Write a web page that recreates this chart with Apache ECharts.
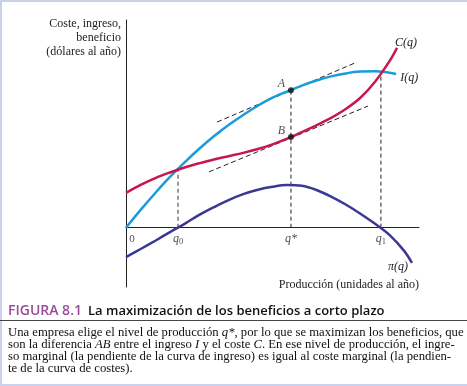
<!DOCTYPE html>
<html><head><meta charset="utf-8">
<script src="https://cdn.jsdelivr.net/npm/echarts@6/dist/echarts.min.js"></script>
<style>html,body{margin:0;padding:0;background:#fff}#c{width:467px;height:386px}</style>
</head><body><div id="c"></div>
<script>
// Key output levels
const q0 = 1.775, qStar = 5.63, q1 = 8.70;
const tickValues = [0, q0, qStar, q1];
const tickLabels = ['0', 'q0', 'q*', 'q1'];

// Cost curve C(q)
const costQ = [0, 0.5, 1.0, 1.5, 2.0, 2.5, 3.0, 3.5, 4.0, 4.5, 5.0, 5.5, 6.0, 6.5, 7.0, 7.5, 8.0, 8.5, 9.0, 9.25];
const costV = [1.17, 1.44, 1.67, 1.86, 2.03, 2.17, 2.30, 2.41, 2.52, 2.65, 2.81, 3.00, 3.22, 3.45, 3.70, 4.00, 4.38, 4.92, 5.62, 6.06];

// Revenue curve I(q)
const revQ = [0, 0.5, 1.0, 1.5, 2.0, 2.5, 3.0, 3.5, 4.0, 4.5, 5.0, 5.5, 6.0, 6.5, 7.0, 7.5, 8.0, 8.5, 9.0, 9.22];
const revV = [0, 0.60, 1.17, 1.71, 2.20, 2.66, 3.08, 3.46, 3.80, 4.11, 4.38, 4.59, 4.79, 4.96, 5.10, 5.20, 5.26, 5.27, 5.22, 5.18];

// Profit curve pi(q)
const profQ = [0, 0.5, 1.0, 1.5, 2.0, 2.5, 3.0, 3.5, 4.0, 4.5, 5.0, 5.5, 6.0, 6.5, 7.0, 7.5, 8.0, 8.5, 9.0, 9.5, 9.76];
const profV = [-0.99, -0.72, -0.44, -0.15, 0.13, 0.43, 0.69, 0.93, 1.13, 1.28, 1.38, 1.435, 1.41, 1.27, 1.05, 0.78, 0.47, 0.13, -0.25, -0.79, -1.19];

// Points A and B
const pointA = [qStar, 4.63], pointB = [qStar, 3.06];
// Tangent segments
const tangentA = [[3.11, 3.56], [7.88, 5.58]];
const tangentB = [[2.83, 1.88], [8.26, 4.10]];
// Dropped dashed lines
const drops = [[[q0, 0], [q0, 1.98]], [[qStar, 0], [qStar, 4.63]], [[q1, 0], [q1, 5.25]]];

const zip = (a, b) => a.map((x, i) => [x, b[i]]);
const serif = '"Liberation Serif","DejaVu Serif",serif';
const sans = '"Open Sans","Noto Sans",sans-serif';
const RED = '#c8174d', BLUE = '#1a9cdc', NAVY = '#3b3895';

const series = [];
drops.forEach((d, i) => series.push({type:'line', data:d, symbol:'none', silent:true,
  lineStyle:{color:i === 0 ? '#777' : '#222', width:i === 0 ? 1.5 : 1, type:[4,3]}, z:1}));
[tangentA, tangentB].forEach(d => series.push({type:'line', data:d, symbol:'none', silent:true,
  lineStyle:{color:'#222', width:1, type:[5,3]}, z:1}));
series.push({type:'line', name:'C', data:zip(costQ, costV), smooth:0.35, symbol:'none',
  lineStyle:{color:RED, width:2.5}, z:3,
  endLabel:{show:true, formatter:'C(q)', fontFamily:serif, fontStyle:'italic', fontSize:12, color:'#222', offset:[-10,-5]}});
series.push({type:'line', name:'I', data:zip(revQ, revV), smooth:0.35, symbol:'none',
  lineStyle:{color:BLUE, width:2.5}, z:2,
  endLabel:{show:true, formatter:'I(q)', fontFamily:serif, fontStyle:'italic', fontSize:12, color:'#222', offset:[-4,4]}});
series.push({type:'line', name:'pi', data:zip(profQ, profV), smooth:0.35, symbol:'none',
  lineStyle:{color:NAVY, width:2.5}, z:2,
  endLabel:{show:true, formatter:'π(q)', fontFamily:serif, fontStyle:'italic', fontSize:12, color:'#222', offset:[-32,4]}});
series.push({type:'scatter', data:[pointA, pointB], symbolSize:6, itemStyle:{color:'#111'}, z:5,
  label:{show:true, formatter:p => p.dataIndex === 0 ? 'A' : 'B', position:'left', offset:[2,-6],
    fontFamily:serif, fontStyle:'italic', fontSize:12, color:'#222'}});
// Axis tick labels at the zero line
series.push({type:'scatter', symbolSize:0, silent:true, z:6,
  data:tickValues.map((v, i) => ({value:[v, 0], label:i === 0 ? {offset:[6, 0]} : {}})),
  label:{show:true, position:'bottom', distance:3,
    formatter:p => { const t = tickLabels[p.dataIndex];
      if (t === '0') return '{z|0}';
      if (t === 'q*') return '{q|q*}';
      return '{q|q}{s|' + t.slice(1) + '}'; },
    rich:{z:{fontFamily:serif, fontSize:11, color:'#222', lineHeight:16},
          q:{fontFamily:serif, fontStyle:'italic', fontSize:12, color:'#222', lineHeight:16},
          s:{fontFamily:serif, fontSize:8.5, color:'#222', verticalAlign:'bottom', lineHeight:10}}}});

const chart = echarts.init(document.getElementById('c'), null, {renderer:'canvas'});
chart.setOption({
  animation:false,
  backgroundColor:'#fff',
  grid:{left:126, right:48, top:20, bottom:99, containLabel:false},
  xAxis:{type:'value', min:0, max:10,
    axisLine:{onZero:true, lineStyle:{color:'#222', width:1}},
    axisTick:{show:false}, splitLine:{show:false}, axisLabel:{show:false}},
  yAxis:{type:'value', min:-2, max:7,
    axisLine:{show:true, onZero:false, lineStyle:{color:'#222', width:1}},
    axisTick:{show:false}, axisLabel:{show:false}, splitLine:{show:false}},
  series:series,
  graphic:[
    {type:'rect', shape:{x:0, y:0, width:467, height:2}, style:{fill:'#c9d2ea'}},
    {type:'rect', shape:{x:0, y:0, width:2, height:386}, style:{fill:'#c9d2ea'}},
    {type:'rect', shape:{x:0, y:384, width:467, height:2}, style:{fill:'#c9d2ea'}},
    {type:'text', style:{text:'Coste, ingreso,\nbeneficio\n(dólares al año)', x:121, y:17, textAlign:'right',
      font:'12px ' + serif, lineHeight:14, fill:'#222'}},
    {type:'text', style:{text:'Producción (unidades al año)', x:419, y:279, textAlign:'right',
      font:'12px ' + serif, fill:'#222'}},
    {type:'text', style:{text:'FIGURA 8.1', x:8, y:304, font:'600 14px ' + sans, fill:'#9b4a9a'}},
    {type:'text', style:{text:'La maximización de los beneficios a corto plazo', x:88, y:305,
      font:'600 13px ' + sans, fill:'#111'}},
    {type:'rect', shape:{x:0, y:320, width:467, height:1}, style:{fill:'#444'}},
    {type:'text', style:{x:8, y:327,
      text:'Una empresa elige el nivel de producción {i|q*}, por lo que se maximizan los beneficios, que\n' +
           'son la diferencia {i|AB} entre el ingreso {i|I} y el coste {i|C}. En ese nivel de producción, el ingre-\n' +
           'so marginal (la pendiente de la curva de ingreso) es igual al coste marginal (la pendien-\n' +
           'te de la curva de costes).',
      font:'12.7px ' + serif, lineHeight:11.8, fill:'#111',
      rich:{i:{fontFamily:serif, fontStyle:'italic', fontSize:12.7, fill:'#111'}}}}
  ]
});
</script></body></html>
